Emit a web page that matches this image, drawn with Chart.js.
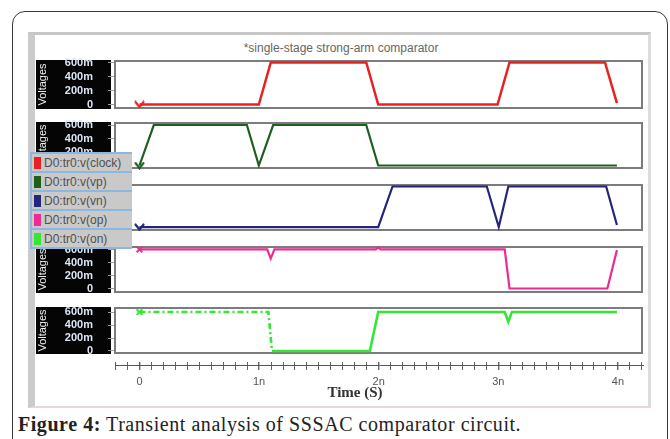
<!DOCTYPE html>
<html>
<head>
<meta charset="utf-8">
<script src="https://cdn.jsdelivr.net/npm/chart.js@4/dist/chart.umd.min.js"></script>
<style>
  html, body { margin: 0; padding: 0; background: #fff; }
  body { width: 670px; height: 439px; position: relative; overflow: hidden;
         font-family: "Liberation Sans", Arial, sans-serif; }
  .card { position: absolute; left: 12px; top: 11px; width: 656px; height: 442px;
          border: 1.5px solid #3a3a3a; border-radius: 13px; box-sizing: border-box; }
  .shot { position: absolute; left: 28px; top: 32px; width: 623px; height: 376px;
          box-sizing: border-box; background: #fff;
          border-top: 3px solid #c6c6c6; border-left: 7px solid #cbcbcb;
          border-right: 3px solid #dcdcdc; border-bottom: 2px solid #ead8d8; }
  canvas { position: absolute; }
  .plot-title { position: absolute; left: 341px; top: 41px; transform: translateX(-50%);
                font-size: 12px; color: #666; white-space: nowrap; }
  .time-title { position: absolute; left: 355px; top: 384px; transform: translateX(-50%);
                font: bold 15px "Liberation Serif", "Times New Roman", serif; color: #333; white-space: nowrap; }
  .legend { position: absolute; left: 30px; top: 152px; width: 100px; z-index: 5;
            background: #c9c9c9; border-left: 2px solid #8db7dc; border-bottom: 2px solid #8db7dc; }
  .legend .item { height: 17px; border-top: 2px solid #8db7dc; display: flex; align-items: center; }
  .legend .sw { width: 7px; height: 12px; margin-left: 2px; margin-right: 3px; }
  .legend .txt { font-size: 12px; color: #505050; white-space: nowrap; }
  .caption { position: absolute; left: 18px; top: 413px; font: 20px "Liberation Serif", "Times New Roman", serif;
             letter-spacing: 0.55px; color: #222; white-space: nowrap; line-height: 22px; }
  .caption b { font-weight: bold; }
</style>
</head>
<body>
<div class="card"></div>
<div class="shot"></div>
<div class="plot-title">*single-stage strong-arm comparator</div>
<canvas id="p0"></canvas>
<canvas id="p1"></canvas>
<canvas id="p2"></canvas>
<canvas id="p3"></canvas>
<canvas id="p4"></canvas>
<canvas id="axis"></canvas>
<div class="time-title">Time (S)</div>
<div class="legend" id="legend"></div>
<div class="caption"><b>Figure 4:</b> Transient analysis of SSSAC comparator circuit.</div>

<script>
// Signal names
const seriesNames = ['D0:tr0:v(clock)', 'D0:tr0:v(vp)', 'D0:tr0:v(vn)', 'D0:tr0:v(op)', 'D0:tr0:v(on)'];

// Waveform breakpoints: time in ns, voltage in V
const clockT = [0, 1.0, 1.1, 1.9, 2.0, 3.0, 3.1, 3.9, 4.0];
const clockV = [0, 0, 0.6, 0.6, 0, 0, 0.6, 0.6, 0.02];

const vpT = [0, 0.12, 0.9, 1.0, 1.12, 1.9, 2.0, 4.0];
const vpV = [0, 0.6, 0.6, 0, 0.6, 0.6, 0, 0];

const vnT = [0, 2.0, 2.12, 2.91, 3.01, 3.09, 3.91, 4.0];
const vnV = [0, 0, 0.6, 0.6, 0, 0.6, 0.6, 0.03];

const opT = [0, 1.07, 1.1, 1.13, 1.98, 2.0, 2.02, 3.06, 3.1, 3.92, 4.0];
const opV = [0.6, 0.6, 0.46, 0.6, 0.6, 0.63, 0.6, 0.6, 0, 0, 0.59];

const onT = [0, 1.08, 1.11, 1.93, 2.0, 3.06, 3.09, 3.12, 4.0];
const onV = [0.6, 0.6, 0, 0, 0.6, 0.6, 0.45, 0.6, 0.6];

// Axis ticks
const voltTicks = [0, 0.2, 0.4, 0.6];
const timeLabels = ['0', '1n', '2n', '3n', '4n'];

const colors = ['#e82222', '#1e5e1e', '#25257c', '#ee2a94', '#35e635'];
const widths = [2.5, 2.2, 2.2, 2.2, 2.6];

Chart.defaults.font.family = '"Liberation Sans", Arial, sans-serif';

// Chevron marker used at the start of some traces
function chevron(color) {
  const c = document.createElement('canvas');
  c.width = 11; c.height = 8;
  const g = c.getContext('2d');
  g.strokeStyle = color; g.lineWidth = 2.2; g.lineCap = 'round';
  g.beginPath(); g.moveTo(1.5, 1.5); g.lineTo(5.5, 6.5); g.lineTo(9.5, 1.5); g.stroke();
  return c;
}
const markers = [chevron(colors[0]), chevron(colors[1]), chevron(colors[2]), 'crossRot', 'crossRot'];

const X_MIN = -0.205, X_MAX = 4.21;
const CANVAS_LEFT = 36, CANVAS_W = 612, YAXIS_W = 79, PAD_R = 5, PAD_V = 8;

// Panel frames (top / bottom in page pixels) and voltage ranges
const panelTop = [61, 123, 185, 247, 308];
const panelBottom = [108, 168, 230, 292, 353];
const panelMin = [-0.05, -0.037, -0.044, -0.054, -0.031];
const panelMax = [0.621, 0.63, 0.622, 0.638, 0.662];

const series = [[clockT, clockV], [vpT, vpV], [vnT, vnV], [opT, opV], [onT, onV]];

// Black label block behind the y axis and grey frame around each plot
const panelDeco = {
  id: 'panelDeco',
  beforeDraw(chart) {
    const { ctx, chartArea } = chart;
    ctx.save();
    ctx.fillStyle = '#050505';
    ctx.fillRect(0, chartArea.top - 1, chartArea.left - 4, chartArea.bottom - chartArea.top + 2);
    ctx.restore();
  },
  beforeDatasetsDraw(chart) {
    const { ctx, chartArea } = chart;
    ctx.save();
    ctx.strokeStyle = '#7c7c7c';
    ctx.lineWidth = 2;
    ctx.strokeRect(chartArea.left, chartArea.top, chartArea.right - chartArea.left, chartArea.bottom - chartArea.top);
    ctx.restore();
  }
};

function makePanel(i) {
  const cv = document.getElementById('p' + i);
  const h = panelBottom[i] - panelTop[i] + 2 * PAD_V;
  cv.width = CANVAS_W; cv.height = h;
  cv.style.left = CANVAS_LEFT + 'px';
  cv.style.top = (panelTop[i] - PAD_V) + 'px';
  const [T, V] = series[i];
  const pts = T.map((t, k) => ({ x: t, y: V[k] }));
  const ds = {
    label: seriesNames[i],
    data: pts,
    borderColor: colors[i],
    backgroundColor: colors[i],
    borderWidth: widths[i],
    tension: 0,
    pointStyle: markers[i],
    pointRadius: (c) => c.dataIndex === 0 ? 4 : 0,
    pointBorderWidth: 2,
    pointBorderColor: colors[i],
    clip: 3
  };
  if (i === 4) {
    ds.segment = { borderDash: (c) => c.p1.parsed.x <= 1.11 ? [6, 3, 2, 3] : undefined };
  }
  new Chart(cv, {
    type: 'line',
    data: { datasets: [ds] },
    options: {
      responsive: false, animation: false, devicePixelRatio: 1,
      layout: { padding: { top: PAD_V, bottom: PAD_V, right: PAD_R, left: 0 } },
      plugins: { legend: { display: false }, tooltip: { enabled: false } },
      events: [],
      scales: {
        x: { type: 'linear', min: X_MIN, max: X_MAX, display: false },
        y: {
          type: 'linear', min: panelMin[i], max: panelMax[i],
          afterFit: (s) => { s.width = YAXIS_W; s.paddingTop = 0; s.paddingBottom = 0; },
          afterBuildTicks: (s) => { s.ticks = voltTicks.map(v => ({ value: v })); },
          border: { display: false },
          grid: { drawOnChartArea: false, drawTicks: true, tickLength: 7, tickColor: '#9a9a9a' },
          ticks: {
            autoSkip: false, padding: 15, color: '#dbe5f3',
            font: { size: 11, weight: 'bold' },
            callback: (v) => v === 0 ? '0' : Math.round(v * 1000) + 'm'
          },
          title: { display: true, text: 'Voltages', color: '#f2f2f2', font: { size: 11 }, padding: { top: 0, bottom: 0 } }
        }
      }
    },
    plugins: [panelDeco]
  });
}

for (let i = 0; i < 5; i++) makePanel(i);

// Shared time axis below the panels
(function () {
  const cv = document.getElementById('axis');
  cv.width = CANVAS_W; cv.height = 30;
  cv.style.left = CANVAS_LEFT + 'px';
  cv.style.top = '362px';
  const tickVals = [];
  for (let k = -2; k <= 42; k++) tickVals.push(k / 10);
  new Chart(cv, {
    type: 'line',
    data: { datasets: [] },
    options: {
      responsive: false, animation: false, devicePixelRatio: 1,
      layout: { padding: { top: 0, bottom: 0, right: PAD_R, left: YAXIS_W } },
      plugins: { legend: { display: false }, tooltip: { enabled: false } },
      events: [],
      scales: {
        x: {
          type: 'linear', min: X_MIN, max: X_MAX, position: 'bottom',
          afterFit: (s) => { s.height = 27; s.paddingLeft = 0; s.paddingRight = 0; },
          afterBuildTicks: (s) => { s.ticks = tickVals.map(v => ({ value: v })); },
          border: { display: true, color: '#555', width: 1 },
          grid: {
            drawOnChartArea: true, drawTicks: true, tickLength: 5,
            color: '#666',
            lineWidth: (c) => (c.tick && Math.abs(c.tick.value - Math.round(c.tick.value)) < 1e-6) ? 1.4 : 1
          },
          ticks: {
            autoSkip: false, maxRotation: 0, padding: 5, color: '#555', font: { size: 11 },
            callback: (v) => {
              const r = Math.round(v * 10);
              return (r % 10 === 0 && r >= 0 && r <= 40) ? timeLabels[r / 10] : '';
            }
          }
        },
        y: { display: false, min: 0, max: 1 }
      }
    }
  });
})();

// Legend entries
const lg = document.getElementById('legend');
seriesNames.forEach((name, i) => {
  const item = document.createElement('div');
  item.className = 'item';
  const sw = document.createElement('div');
  sw.className = 'sw';
  sw.style.background = colors[i];
  const tx = document.createElement('span');
  tx.className = 'txt';
  tx.textContent = name;
  item.appendChild(sw); item.appendChild(tx);
  lg.appendChild(item);
});
</script>
</body>
</html>
